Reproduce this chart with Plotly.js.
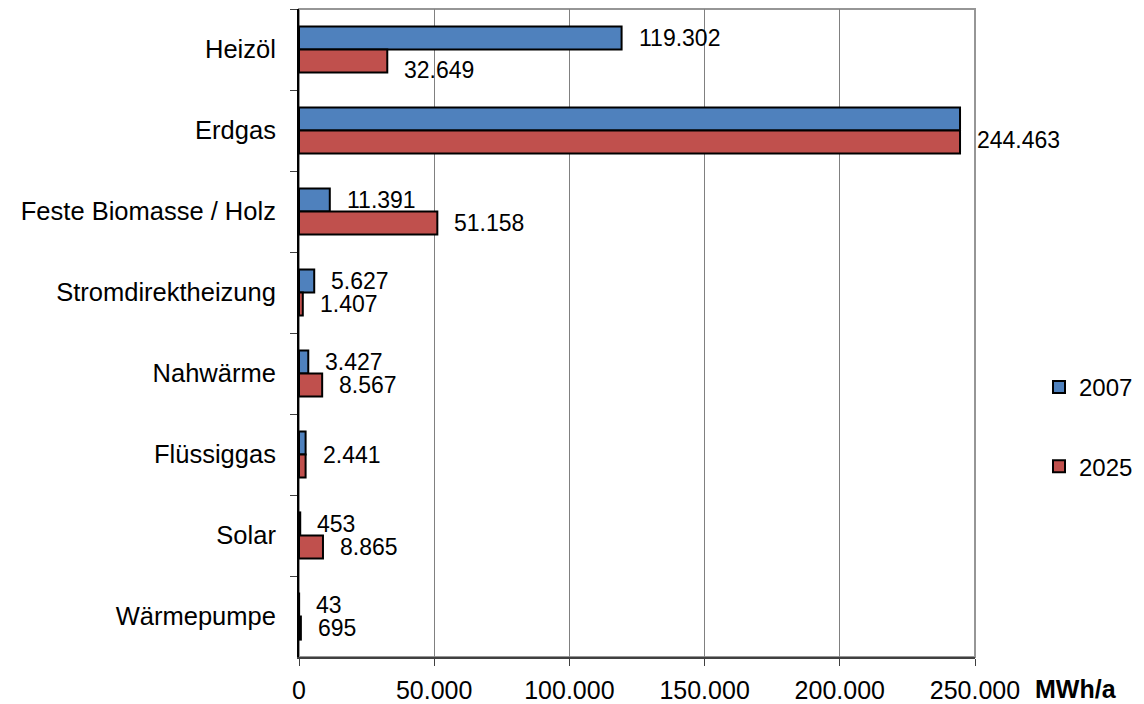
<!DOCTYPE html>
<html>
<head>
<meta charset="utf-8">
<script src="https://cdn.plot.ly/plotly-3.0.1.min.js"></script>
<style>html,body{margin:0;padding:0;background:#fff;}#chart{width:1144px;height:704px;}</style>
</head>
<body>
<div id="chart"></div>
<script>
const categories = ['Heizöl', 'Erdgas', 'Feste Biomasse / Holz', 'Stromdirektheizung', 'Nahwärme', 'Flüssiggas', 'Solar', 'Wärmepumpe'];
const values2007 = [119302, 244463, 11391, 5627, 3427, 2441, 453, 43];
const values2025 = [32649, 244463, 51158, 1407, 8567, 2441, 8865, 695];
const xTicks = [0, 50000, 100000, 150000, 200000, 250000];
const xTickLabels = ['0', '50.000', '100.000', '150.000', '200.000', '250.000'];
// how the value labels appear per category: 'both', 'only2025', 'merged'
const labelMode = ['both', 'only2025', 'both', 'both', 'both', 'merged', 'both', 'both'];

function fmt(v) {
  return String(v).replace(/\B(?=(\d{3})+(?!\d))/g, '.');
}

const font = 'Liberation Sans, Arial, sans-serif';
const blue = '#4F81BD', red = '#C0504D';

const traces = [
  {type: 'bar', orientation: 'h', name: '2007', y: categories, x: values2007,
   marker: {color: blue, line: {color: '#000', width: 2}}, legendgroup: 'a', hoverinfo: 'x+name'},
  {type: 'bar', orientation: 'h', name: '2025', y: categories, x: values2025,
   marker: {color: red, line: {color: '#000', width: 2}}, legendgroup: 'b', hoverinfo: 'x+name'}
];

const annotations = [];
const half = 11.5;
categories.forEach((c, i) => {
  const base = {xref: 'x', yref: 'y', y: c, xanchor: 'left', yanchor: 'middle', showarrow: false,
                xshift: 15, font: {family: font, size: 23, color: '#000'}};
  if (labelMode[i] === 'merged') {
    annotations.push(Object.assign({}, base, {x: Math.max(values2007[i], values2025[i]), text: fmt(values2025[i]), yshift: 0}));
    return;
  }
  if (labelMode[i] === 'both') {
    annotations.push(Object.assign({}, base, {x: values2007[i], text: fmt(values2007[i]), yshift: half}));
  }
  const extra = (i === 0) ? -9 : (i === 1 ? 2 : 0);
  annotations.push(Object.assign({}, base, {x: values2025[i], text: fmt(values2025[i]), yshift: -half + extra}));
});
annotations.push({xref: 'paper', yref: 'paper', x: 1, y: 0, xanchor: 'left', yanchor: 'middle', showarrow: false,
  xshift: 58, yshift: -32, text: '<b>MWh/a</b>', font: {family: font, size: 25, color: '#000'}});

const layout = {
  width: 1144, height: 704,
  margin: {l: 299, r: 169, t: 9, b: 47, pad: 0},
  paper_bgcolor: '#fff', plot_bgcolor: '#fff',
  separators: ',.',
  barmode: 'group', bargap: 0.43, bargroupgap: 0,
  font: {family: font, size: 25, color: '#000'},
  showlegend: true,
  legend: {xref: 'container', yref: 'container', x: 1039 / 1144, xanchor: 'left',
           y: 1 - 365 / 704, yanchor: 'top', traceorder: 'grouped', tracegroupgap: 45,
           font: {family: font, size: 24, color: '#000'}, bgcolor: 'rgba(0,0,0,0)', borderwidth: 0},
  xaxis: {range: [0, 250000], tickvals: xTicks, ticktext: xTickLabels, showgrid: true,
          gridcolor: '#808080', gridwidth: 1, zeroline: false, showline: true, linecolor: '#404040', linewidth: 1.5,
          ticks: 'outside', ticklen: 7, tickcolor: '#404040', tickwidth: 1, ticklabelstandoff: 3,
          tickfont: {family: font, size: 25, color: '#000'}, fixedrange: true},
  yaxis: {type: 'category', autorange: 'reversed', showgrid: false, zeroline: false,
          showline: true, linecolor: '#000', linewidth: 2, ticks: 'outside', ticklen: 7, tickcolor: '#404040',
          tickson: 'boundaries', ticklabelstandoff: 16,
          tickfont: {family: font, size: 25.5, color: '#000'}, fixedrange: true},
  shapes: [{type: 'rect', xref: 'paper', yref: 'paper', x0: 0, x1: 1, y0: 0, y1: 1,
            line: {color: '#969696', width: 2}, layer: 'below'}],
  annotations: annotations
};

Plotly.newPlot('chart', traces, layout, {displayModeBar: false, staticPlot: true});
</script>
</body>
</html>
